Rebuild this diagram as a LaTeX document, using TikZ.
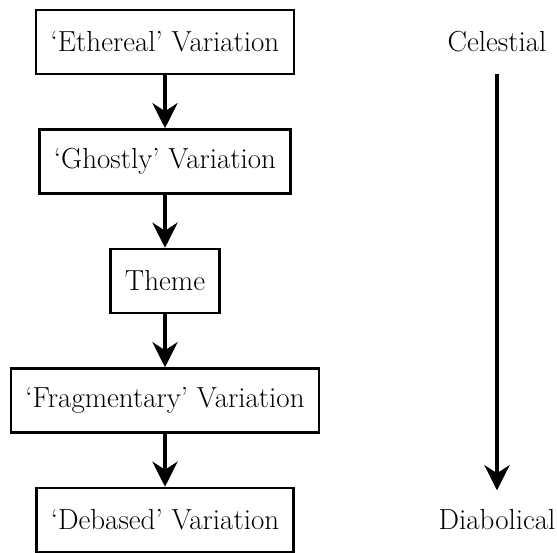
\documentclass[tikz,border=0pt]{standalone}
\usetikzlibrary{arrows.meta}
\begin{document}
\begin{tikzpicture}[x=1pt, y=1pt,
    every node/.style={font=\fontsize{29}{33}\selectfont},
    stage/.style={draw, line width=2.5pt, minimum height=64pt, inner xsep=14.5pt},
    flow/.style={line width=4.5pt, -{Stealth[length=25pt, width=25pt, inset=8pt]}}]
    \useasboundingbox (0, 0) rectangle (557, -553);

    % chain of variations
    \node[stage] (ethereal) at (165, -42) {`Ethereal' Variation};
    \node[stage] (ghostly) at (165, -161.5) {`Ghostly' Variation};
    \node[stage] (theme) at (165, -281) {Theme};
    \node[stage] (fragment) at (165, -400.5) {`Fragmentary' Variation};
    \node[stage] (debased) at (165, -520) {`Debased' Variation};

    \foreach \a/\b in {ethereal/ghostly, ghostly/theme, theme/fragment, fragment/debased}
        \draw[flow] (\a) -- (\b);

    % scale on the right
    \node (celestial) at (497, -42) {Celestial};
    \node (diabolical) at (497, -520) {Diabolical};
    \draw[flow, shorten <=18pt, shorten >=16pt] (celestial) -- (diabolical);
\end{tikzpicture}
\end{document}
